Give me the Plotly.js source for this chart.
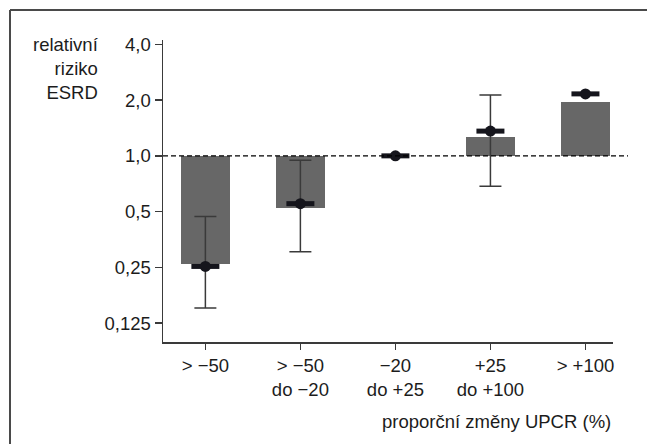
<!DOCTYPE html>
<html>
<head>
<meta charset="utf-8">
<script src="https://cdn.plot.ly/plotly-3.0.1.min.js"></script>
<style>
  html, body { margin: 0; padding: 0; background: #ffffff; }
  #chart { width: 647px; height: 444px; }
</style>
</head>
<body>
<div id="chart"></div>
<script>
// ---- data ----
const categories = ["> \u221250", "> \u221250<br>do \u221220", "\u221220<br>do +25", "+25<br>do +100", "> +100"];
const barRisk = [0.26, 0.525, 1.0, 1.27, 1.96];        // bar heights (relative risk)
const pointRisk = [0.253, 0.552, 1.0, 1.36, 2.16];     // point estimates
const ciLow = [0.151, 0.304, null, 0.685, null];       // lower whisker
const ciHigh = [0.47, 0.948, null, 2.13, null];        // upper whisker
const referenceRisk = 1.0;                             // dashed reference line
const yTickVals = [0.125, 0.25, 0.5, 1.0, 2.0, 4.0];
const yTickText = ["0,125", "0,25", "0,5", "1,0", "2,0", "4,0"];
const yTitle = "relativní<br>riziko<br>ESRD";
const xTitle = "proporční změny UPCR (%)";

const idx = categories.map((_, i) => i);
const FONT = "Liberation Sans, Arial, Helvetica, sans-serif";
const FS = 18.5;
const TXT = "#1c1c1c";
const AX = "#3a3a3a";

const bars = {
  type: "bar",
  x: idx,
  y: barRisk.map(v => v - referenceRisk),
  base: barRisk.map(() => referenceRisk),
  width: 0.52,
  marker: { color: "#676767", line: { width: 0 } },
  hoverinfo: "skip",
  showlegend: false
};

const whiskers = {
  type: "scatter",
  mode: "markers",
  x: idx,
  y: pointRisk,
  marker: { size: 1, opacity: 0 },
  error_y: {
    type: "data",
    symmetric: false,
    array: pointRisk.map((p, i) => ciHigh[i] == null ? null : ciHigh[i] - p),
    arrayminus: pointRisk.map((p, i) => ciLow[i] == null ? null : p - ciLow[i]),
    color: AX,
    thickness: 1.5,
    width: 11
  },
  hoverinfo: "skip",
  showlegend: false
};

const dashes = {
  type: "scatter",
  mode: "markers",
  x: idx,
  y: pointRisk,
  marker: { symbol: "line-ew", size: 20, line: { width: 5, color: "#15151c" } },
  hoverinfo: "skip",
  showlegend: false,
  cliponaxis: false
};

const dots = {
  type: "scatter",
  mode: "markers",
  x: idx,
  y: pointRisk,
  marker: { symbol: "circle", size: 11, color: "#15151c" },
  hoverinfo: "skip",
  showlegend: false,
  cliponaxis: false
};

const W = 647, H = 444;
const m = { l: 163, r: 34, t: 40, b: 102 };
const pw = W - m.l - m.r, ph = H - m.t - m.b;
const px = x => (x - m.l) / pw;
const py = y => (H - m.b - y) / ph;

const layout = {
  width: W,
  height: H,
  margin: m,
  paper_bgcolor: "#ffffff",
  plot_bgcolor: "rgba(0,0,0,0)",
  font: { family: FONT, size: FS, color: TXT },
  showlegend: false,
  bargap: 0,
  xaxis: {
    type: "linear",
    range: [-0.446, 4.29],
    tickmode: "array",
    tickvals: idx,
    ticktext: categories,
    ticks: "outside",
    ticklen: 6,
    tickwidth: 1.5,
    tickcolor: AX,
    showline: true,
    linecolor: AX,
    linewidth: 1.5,
    showgrid: false,
    zeroline: false,
    tickfont: { family: FONT, size: FS, color: TXT },
    fixedrange: true
  },
  yaxis: {
    type: "log",
    range: [-1.0048, 0.6253],
    tickmode: "array",
    tickvals: yTickVals,
    ticktext: yTickText,
    ticks: "outside",
    ticklen: 7,
    tickwidth: 1.5,
    tickcolor: AX,
    showline: true,
    linecolor: AX,
    linewidth: 1.5,
    showgrid: false,
    zeroline: false,
    tickfont: { family: FONT, size: FS, color: TXT },
    fixedrange: true
  },
  shapes: [
    { type: "line", xref: "paper", yref: "y", x0: 0, x1: px(628), y0: referenceRisk, y1: referenceRisk,
      line: { color: "#000000", width: 1.3, dash: "5px,3px" }, layer: "above" },
    { type: "line", xref: "paper", yref: "paper", x0: px(10), x1: px(660), y0: py(10), y1: py(10),
      line: { color: "#4a4a4a", width: 2 } },
    { type: "line", xref: "paper", yref: "paper", x0: px(10), x1: px(10), y0: py(10), y1: py(460),
      line: { color: "#4a4a4a", width: 2 } }
  ],
  annotations: [
    { text: yTitle, xref: "paper", yref: "paper", x: px(101), y: py(32),
      xanchor: "right", yanchor: "top", align: "right", showarrow: false,
      font: { family: FONT, size: FS, color: TXT } },
    { text: xTitle, xref: "paper", yref: "paper", x: px(613), y: py(421),
      xanchor: "right", yanchor: "middle", align: "right", showarrow: false,
      font: { family: FONT, size: FS, color: TXT } }
  ]
};

Plotly.newPlot("chart", [bars, whiskers, dashes, dots], layout, { displayModeBar: false, staticPlot: true });
</script>
</body>
</html>
